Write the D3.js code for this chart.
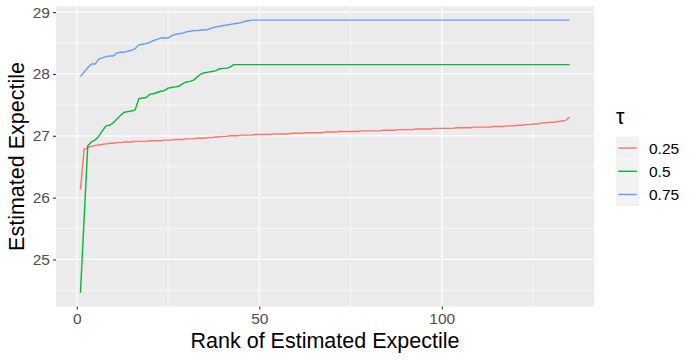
<!DOCTYPE html>
<html>
<head>
<meta charset="utf-8">
<script src="https://cdn.jsdelivr.net/npm/d3@7"></script>
<style>
  body { margin: 0; background: #fff; }
  text { font-family: "Liberation Sans", Arial, sans-serif; }
</style>
</head>
<body>
<svg width="696" height="360"></svg>
<script>
const tauLevels = ["0.25", "0.5", "0.75"];
const tauColors = ["#F8766D", "#00BA38", "#619CFF"];
const xTicks = [0, 50, 100];
const yTicks = [25, 26, 27, 28, 29];

const tau025 = [
  26.13, 26.78, 26.81, 26.83, 26.84, 26.85, 26.86, 26.87, 26.88, 26.88,
  26.89, 26.89, 26.90, 26.90, 26.90, 26.91, 26.91, 26.91, 26.91, 26.92,
  26.92, 26.92, 26.92, 26.93, 26.93, 26.93, 26.94, 26.94, 26.94, 26.95,
  26.95, 26.95, 26.96, 26.96, 26.96, 26.97, 26.97, 26.98, 26.98, 26.99,
  26.99, 27.00, 27.00, 27.00, 27.01, 27.01, 27.01, 27.01, 27.02, 27.02,
  27.02, 27.02, 27.02, 27.03, 27.03, 27.03, 27.03, 27.03, 27.04, 27.04,
  27.04, 27.04, 27.05, 27.05, 27.05, 27.05, 27.05, 27.06, 27.06, 27.06,
  27.06, 27.07, 27.07, 27.07, 27.07, 27.07, 27.07, 27.08, 27.08, 27.08,
  27.08, 27.08, 27.08, 27.09, 27.09, 27.09, 27.09, 27.10, 27.10, 27.10,
  27.10, 27.10, 27.11, 27.11, 27.11, 27.11, 27.11, 27.12, 27.12, 27.12,
  27.12, 27.12, 27.12, 27.13, 27.13, 27.13, 27.13, 27.13, 27.14, 27.14,
  27.14, 27.14, 27.14, 27.15, 27.15, 27.15, 27.15, 27.16, 27.16, 27.16,
  27.17, 27.17, 27.18, 27.18, 27.19, 27.19, 27.20, 27.21, 27.21, 27.22,
  27.22, 27.23, 27.24, 27.25, 27.30
];

const tau050 = [
  24.46, 25.65, 26.84, 26.90, 26.93, 26.99, 27.08, 27.16, 27.17, 27.21,
  27.27, 27.33, 27.38, 27.39, 27.40, 27.42, 27.60, 27.61, 27.62, 27.67,
  27.68, 27.70, 27.72, 27.73, 27.77, 27.78, 27.79, 27.80, 27.84, 27.87,
  27.88, 27.90, 27.95, 28.00, 28.02, 28.03, 28.04, 28.05, 28.08, 28.09,
  28.09, 28.11, 28.15, 28.15, 28.15, 28.15, 28.15, 28.15, 28.15, 28.15,
  28.15, 28.15, 28.15, 28.15, 28.15, 28.15, 28.15, 28.15, 28.15, 28.15,
  28.15, 28.15, 28.15, 28.15, 28.15, 28.15, 28.15, 28.15, 28.15, 28.15,
  28.15, 28.15, 28.15, 28.15, 28.15, 28.15, 28.15, 28.15, 28.15, 28.15,
  28.15, 28.15, 28.15, 28.15, 28.15, 28.15, 28.15, 28.15, 28.15, 28.15,
  28.15, 28.15, 28.15, 28.15, 28.15, 28.15, 28.15, 28.15, 28.15, 28.15,
  28.15, 28.15, 28.15, 28.15, 28.15, 28.15, 28.15, 28.15, 28.15, 28.15,
  28.15, 28.15, 28.15, 28.15, 28.15, 28.15, 28.15, 28.15, 28.15, 28.15,
  28.15, 28.15, 28.15, 28.15, 28.15, 28.15, 28.15, 28.15, 28.15, 28.15,
  28.15, 28.15, 28.15, 28.15, 28.15
];

const tau075 = [
  27.96, 28.03, 28.10, 28.16, 28.16, 28.24, 28.26, 28.28, 28.29, 28.29,
  28.34, 28.35, 28.35, 28.37, 28.38, 28.41, 28.47, 28.48, 28.49, 28.51,
  28.54, 28.56, 28.58, 28.58, 28.58, 28.62, 28.64, 28.65, 28.66, 28.68,
  28.69, 28.70, 28.70, 28.71, 28.71, 28.72, 28.74, 28.76, 28.77, 28.78,
  28.79, 28.80, 28.81, 28.82, 28.83, 28.85, 28.86, 28.87, 28.87, 28.87,
  28.87, 28.87, 28.87, 28.87, 28.87, 28.87, 28.87, 28.87, 28.87, 28.87,
  28.87, 28.87, 28.87, 28.87, 28.87, 28.87, 28.87, 28.87, 28.87, 28.87,
  28.87, 28.87, 28.87, 28.87, 28.87, 28.87, 28.87, 28.87, 28.87, 28.87,
  28.87, 28.87, 28.87, 28.87, 28.87, 28.87, 28.87, 28.87, 28.87, 28.87,
  28.87, 28.87, 28.87, 28.87, 28.87, 28.87, 28.87, 28.87, 28.87, 28.87,
  28.87, 28.87, 28.87, 28.87, 28.87, 28.87, 28.87, 28.87, 28.87, 28.87,
  28.87, 28.87, 28.87, 28.87, 28.87, 28.87, 28.87, 28.87, 28.87, 28.87,
  28.87, 28.87, 28.87, 28.87, 28.87, 28.87, 28.87, 28.87, 28.87, 28.87,
  28.87, 28.87, 28.87, 28.87, 28.87
];

const seriesValues = [tau025, tau050, tau075];

const svg = d3.select("svg");
const panel = { left: 56, right: 594, top: 6.5, bottom: 306.5 };

// ggplot-style 5% expansion
const n = tau025.length;
const allVals = seriesValues.flat();
const yMin = d3.min(allVals), yMax = d3.max(allVals);
const xPad = (n - 1) * 0.05, yPad = (yMax - yMin) * 0.05;

const x = d3.scaleLinear()
  .domain([1 - xPad, n + xPad])
  .range([panel.left, panel.right]);
const y = d3.scaleLinear()
  .domain([yMin - yPad, yMax + yPad])
  .range([panel.bottom, panel.top]);

// panel background
svg.append("rect")
  .attr("x", panel.left).attr("y", panel.top)
  .attr("width", panel.right - panel.left)
  .attr("height", panel.bottom - panel.top)
  .attr("fill", "#EBEBEB");

const grid = svg.append("g");
const xMinor = xTicks.map(t => t + 25).filter(t => x(t) < panel.right);
const yMinor = [24.5].concat(yTicks.map(t => t + 0.5)).filter(t => y(t) > panel.top && y(t) < panel.bottom);

grid.selectAll(".xminor").data(xMinor).enter().append("line")
  .attr("x1", d => x(d)).attr("x2", d => x(d))
  .attr("y1", panel.top).attr("y2", panel.bottom)
  .attr("stroke", "#fff").attr("stroke-width", 0.6);
grid.selectAll(".yminor").data(yMinor).enter().append("line")
  .attr("y1", d => y(d)).attr("y2", d => y(d))
  .attr("x1", panel.left).attr("x2", panel.right)
  .attr("stroke", "#fff").attr("stroke-width", 0.6);
grid.selectAll(".xmajor").data(xTicks).enter().append("line")
  .attr("x1", d => x(d)).attr("x2", d => x(d))
  .attr("y1", panel.top).attr("y2", panel.bottom)
  .attr("stroke", "#fff").attr("stroke-width", 1.2);
grid.selectAll(".ymajor").data(yTicks).enter().append("line")
  .attr("y1", d => y(d)).attr("y2", d => y(d))
  .attr("x1", panel.left).attr("x2", panel.right)
  .attr("stroke", "#fff").attr("stroke-width", 1.2);

// lines
const line = d3.line()
  .x((d, i) => x(i + 1))
  .y(d => y(d));

svg.append("g").selectAll("path")
  .data(seriesValues)
  .enter().append("path")
  .attr("d", line)
  .attr("fill", "none")
  .attr("stroke", (d, i) => tauColors[i])
  .attr("stroke-width", 1.4)
  .attr("stroke-linejoin", "round");

// axes
const xAxis = svg.append("g")
  .attr("transform", `translate(0,${panel.bottom})`)
  .call(d3.axisBottom(x).tickValues(xTicks).tickFormat(d3.format("d")).tickSize(3).tickPadding(3));
const yAxis = svg.append("g")
  .attr("transform", `translate(${panel.left},0)`)
  .call(d3.axisLeft(y).tickValues(yTicks).tickFormat(d3.format("d")).tickSize(3).tickPadding(3));

[xAxis, yAxis].forEach(a => {
  a.select(".domain").remove();
  a.selectAll(".tick line").attr("stroke", "#333").attr("stroke-width", 1.1);
  a.selectAll(".tick text")
    .attr("fill", "#4D4D4D")
    .style("font-size", "15.5px")
    .style("font-family", "'Liberation Sans', Arial, sans-serif");
});

// axis titles
svg.append("text")
  .attr("x", (panel.left + panel.right) / 2)
  .attr("y", 348)
  .attr("text-anchor", "middle")
  .style("font-size", "21.5px")
  .text("Rank of Estimated Expectile");

svg.append("text")
  .attr("transform", `translate(24,${(panel.top + panel.bottom) / 2}) rotate(-90)`)
  .attr("text-anchor", "middle")
  .style("font-size", "21.5px")
  .text("Estimated Expectile");

// legend
const legend = svg.append("g").attr("transform", "translate(616,0)");
legend.append("text")
  .attr("x", 0).attr("y", 124)
  .style("font-size", "21.5px")
  .text("τ");

const keys = legend.selectAll(".key")
  .data(tauLevels)
  .enter().append("g")
  .attr("transform", (d, i) => `translate(0,${136.5 + i * 23.2})`);
keys.append("rect")
  .attr("width", 23.2).attr("height", 23.2)
  .attr("fill", "#F2F2F2");
keys.append("line")
  .attr("x1", 2.3).attr("x2", 20.9)
  .attr("y1", 11.6).attr("y2", 11.6)
  .attr("stroke", (d, i) => tauColors[i])
  .attr("stroke-width", 1.4);
keys.append("text")
  .attr("x", 33).attr("y", 11.6)
  .attr("dy", "0.36em")
  .style("font-size", "15.5px")
  .attr("fill", "#000")
  .text(d => d);
</script>
</body>
</html>
